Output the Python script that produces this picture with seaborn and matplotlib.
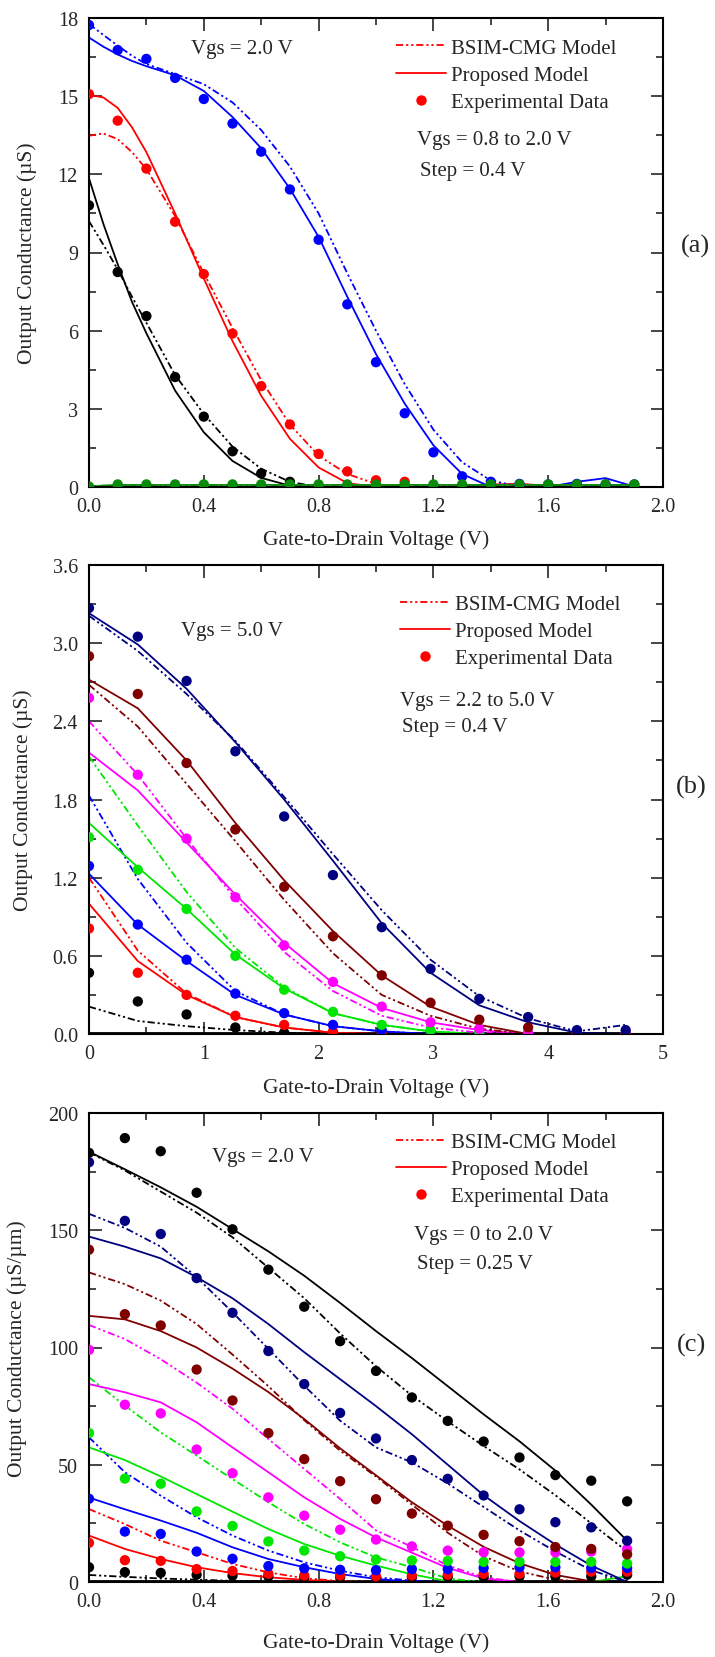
import matplotlib
matplotlib.use("Agg")
import matplotlib.pyplot as plt
from matplotlib.lines import Line2D
from matplotlib.ticker import MultipleLocator, FormatStrFormatter
import numpy as np
import pandas as pd
import seaborn as sns

# ---------------- panel (a) ----------------
a_v_exp = [0.0, 0.1, 0.2, 0.3, 0.4, 0.5, 0.6, 0.7, 0.8, 0.9,
           1.0, 1.1, 1.2, 1.3, 1.4, 1.5, 1.6, 1.7, 1.8, 1.9]
a_exp_black = [10.81, 8.25, 6.56, 4.22, 2.70, 1.37, 0.52, 0.20]
a_exp_red = [15.08, 14.06, 12.22, 10.18, 8.17, 5.89, 3.87, 2.40, 1.27, 0.60, 0.26, 0.20]
a_exp_blue = [17.73, 16.77, 16.43, 15.70, 14.89, 13.95, 12.87, 11.42, 9.49, 7.01,
              4.79, 2.83, 1.33, 0.41, 0.20, 0.12, 0.10, 0.12, 0.10, 0.10]
a_exp_green = [0.02, 0.10, 0.10, 0.10, 0.10, 0.10, 0.10, 0.10, 0.10, 0.10,
               0.10, 0.10, 0.10, 0.10, 0.10, 0.10, 0.10, 0.10, 0.10, 0.10]

a_v_mod = [0.0, 0.05, 0.1, 0.15, 0.2, 0.3, 0.4, 0.5, 0.6, 0.7, 0.8, 0.9,
           1.0, 1.1, 1.2, 1.3, 1.4, 1.5, 1.6, 1.7, 1.8, 1.9]
a_prop_black = [11.85, 10.1, 8.55, 7.1, 5.9, 3.7, 2.1, 1.0, 0.35, 0.05, 0.0, 0.0,
                0.0, 0.0, 0.0, 0.0, 0.0, 0.0, 0.0, 0.0, 0.0, 0.0]
a_bsim_black = [10.2, 9.3, 8.35, 7.3, 6.3, 4.3, 2.8, 1.55, 0.7, 0.2, 0.0, 0.0,
                0.0, 0.0, 0.0, 0.0, 0.0, 0.0, 0.0, 0.0, 0.0, 0.0]
a_prop_red = [15.05, 14.95, 14.55, 13.8, 12.85, 10.5, 8.0, 5.6, 3.5, 1.85, 0.75, 0.15,
              0.0, 0.0, 0.0, 0.03, 0.1, 0.12, 0.05, 0.0, 0.0, 0.0]
a_bsim_red = [13.48, 13.57, 13.35, 12.85, 12.2, 10.4, 8.2, 6.1, 4.1, 2.4, 1.2, 0.5,
              0.12, 0.0, 0.0, 0.0, 0.0, 0.0, 0.0, 0.0, 0.0, 0.0]
a_prop_blue = [17.25, 16.9, 16.6, 16.35, 16.15, 15.8, 15.2, 14.2, 13.0, 11.45, 9.6, 7.3,
               5.1, 3.2, 1.6, 0.5, 0.0, 0.0, 0.0, 0.2, 0.34, 0.02]
a_bsim_blue = [17.77, 17.35, 16.94, 16.55, 16.23, 15.85, 15.46, 14.76, 13.7, 12.3, 10.5, 8.2,
               6.0, 3.95, 2.2, 0.95, 0.25, 0.02, 0.0, 0.0, 0.05, 0.05]
a_prop_green = [0.0, 0.06, 0.08, 0.08, 0.08, 0.08, 0.08, 0.08, 0.08, 0.08, 0.08, 0.08,
                0.08, 0.08, 0.08, 0.08, 0.08, 0.08, 0.08, 0.08, 0.08, 0.08]
a_bsim_green = [0.03, 0.03, 0.03, 0.03, 0.03, 0.03, 0.03, 0.03, 0.03, 0.03, 0.03, 0.03,
                0.03, 0.03, 0.03, 0.03, 0.03, 0.03, 0.03, 0.03, 0.03, 0.03]

# ---------------- panel (b) ----------------
b_v = [0.0, 0.425, 0.85, 1.275, 1.7, 2.125, 2.55, 2.975, 3.4, 3.825, 4.25, 4.675]
b_exp_black = [0.47, 0.25, 0.15, 0.05, 0.01, 0.0, 0.0, 0.0, 0.0, 0.0, 0.0, 0.0]
b_exp_red = [0.81, 0.47, 0.30, 0.14, 0.07, 0.02, 0.0, 0.0, 0.0, 0.0, 0.0, 0.0]
b_exp_blue = [1.29, 0.84, 0.57, 0.31, 0.16, 0.07, 0.03, 0.01, 0.0, 0.0, 0.0, 0.0]
b_exp_green = [1.51, 1.26, 0.96, 0.60, 0.34, 0.17, 0.07, 0.03, 0.01, 0.0, 0.0, 0.0]
b_exp_magenta = [2.58, 1.99, 1.50, 1.05, 0.68, 0.40, 0.21, 0.09, 0.04, 0.01, 0.0, 0.0]
b_exp_maroon = [2.90, 2.61, 2.08, 1.57, 1.13, 0.75, 0.45, 0.24, 0.11, 0.05, 0.01, 0.0]
b_exp_navy = [3.27, 3.05, 2.71, 2.17, 1.67, 1.22, 0.82, 0.50, 0.27, 0.13, 0.03, 0.03]

b_prop_black = [0.01, 0.01, 0.01, 0.01, 0.01, 0.01, 0.01, 0.01, 0.01, 0.01, 0.01, 0.01]
b_prop_red = [1.00, 0.56, 0.30, 0.13, 0.05, 0.01, 0.0, 0.0, 0.0, 0.0, 0.0, 0.0]
b_prop_blue = [1.23, 0.84, 0.56, 0.30, 0.15, 0.06, 0.02, 0.0, 0.0, 0.0, 0.0, 0.0]
b_prop_green = [1.62, 1.28, 0.96, 0.61, 0.35, 0.16, 0.07, 0.02, 0.0, 0.0, 0.0, 0.0]
b_prop_magenta = [2.16, 1.87, 1.47, 1.07, 0.70, 0.39, 0.20, 0.09, 0.03, 0.0, 0.0, 0.0]
b_prop_maroon = [2.72, 2.50, 2.10, 1.62, 1.18, 0.79, 0.45, 0.21, 0.07, 0.0, 0.0, 0.0]
b_prop_navy = [3.23, 2.99, 2.65, 2.24, 1.80, 1.33, 0.85, 0.47, 0.22, 0.09, 0.01, 0.0]

b_bsim_black = [0.21, 0.10, 0.06, 0.03, 0.01, 0.0, 0.0, 0.0, 0.0, 0.0, 0.0, 0.0]
b_bsim_red = [1.20, 0.64, 0.31, 0.13, 0.05, 0.01, 0.0, 0.0, 0.0, 0.0, 0.0, 0.0]
b_bsim_blue = [1.83, 1.19, 0.70, 0.33, 0.15, 0.06, 0.02, 0.0, 0.0, 0.0, 0.0, 0.0]
b_bsim_green = [2.13, 1.60, 1.09, 0.66, 0.36, 0.16, 0.07, 0.02, 0.0, 0.0, 0.0, 0.0]
b_bsim_magenta = [2.40, 1.99, 1.50, 1.04, 0.63, 0.33, 0.14, 0.05, 0.01, 0.0, 0.0, 0.0]
b_bsim_maroon = [2.68, 2.36, 1.92, 1.48, 1.03, 0.62, 0.30, 0.14, 0.04, 0.0, 0.0, 0.0]
b_bsim_navy = [3.21, 2.94, 2.61, 2.25, 1.82, 1.38, 0.95, 0.57, 0.29, 0.12, 0.02, 0.07]

# ---------------- panel (c) ----------------
c_v = [0.0, 0.125, 0.25, 0.375, 0.5, 0.625, 0.75, 0.875,
       1.0, 1.125, 1.25, 1.375, 1.5, 1.625, 1.75, 1.875]
c_exp_black0 = [6.3, 4.2, 3.9, 3.1, 2.7, 2.4, 2.0, 2.0, 2.0, 2.0, 2.2, 2.2, 2.4, 2.4, 2.4, 3.1]
c_exp_red = [16.7, 9.3, 9.0, 5.5, 4.7, 3.5, 2.8, 2.8, 2.4, 2.8, 3.1, 3.5, 3.5, 4.0, 4.4, 4.4]
c_exp_blue = [35.5, 21.5, 20.5, 13.0, 9.9, 6.8, 5.8, 5.2, 5.0, 5.5, 5.5, 6.0, 6.3, 6.3, 6.0, 6.0]
c_exp_green = [63.5, 44.1, 41.9, 30.1, 23.9, 17.3, 13.4, 11.0, 9.6, 9.2, 9.0, 8.6, 8.6, 8.6, 8.6, 7.9]
c_exp_magenta = [99.0, 75.6, 71.9, 56.5, 46.4, 36.1, 28.3, 22.3, 18.1, 15.2, 13.4, 12.7, 12.6, 12.6, 13.0, 14.0]
c_exp_maroon = [141.7, 114.2, 109.4, 90.6, 77.4, 63.5, 52.4, 43.0, 35.3, 29.2, 24.0, 20.1, 17.4, 14.9, 14.1, 11.8]
c_exp_navy = [179.0, 154.0, 148.4, 129.6, 114.8, 98.5, 84.4, 72.1, 61.2, 52.0, 44.0, 36.9, 31.0, 25.5, 23.3, 17.6]
c_exp_black = [183.0, 189.3, 183.7, 166.0, 150.4, 133.2, 117.4, 102.7, 90.0, 78.7, 68.7, 59.9, 53.1, 45.6, 43.2, 34.4]

c_prop_black0 = [0.3, 0.3, 0.3, 0.3, 0.3, 0.3, 0.3, 0.3, 0.3, 0.3, 0.3, 0.3, 0.3, 0.3, 0.3, 0.3]
c_prop_red = [19.8, 14.1, 9.8, 6.3, 3.8, 2.0, 0.9, 0.1, 0.0, 0.0, 0.0, 0.0, 0.0, 0.0, 0.0, 0.0]
c_prop_blue = [36.0, 31.0, 26.2, 21.0, 14.8, 9.8, 6.3, 3.4, 1.3, 0.1, 0.0, 0.0, 0.0, 0.0, 0.0, 0.0]
c_prop_green = [57.4, 52.0, 45.0, 37.5, 30.0, 22.6, 16.2, 11.2, 7.0, 3.3, 0.3, 0.0, 0.0, 0.0, 0.0, 2.5]
c_prop_magenta = [84.4, 80.9, 76.6, 68.1, 57.4, 46.8, 36.1, 26.9, 19.0, 12.5, 6.0, 1.5, 0.0, 0.0, 0.0, 0.0]
c_prop_maroon = [113.5, 112.0, 107.0, 100.0, 91.0, 81.0, 69.5, 57.0, 45.5, 34.0, 24.0, 15.0, 8.0, 3.0, 0.3, 0.0]
c_prop_navy = [147.3, 143.0, 138.0, 130.0, 121.0, 110.0, 98.0, 86.5, 75.0, 63.0, 50.0, 37.0, 26.0, 16.0, 7.0, 0.0]
c_prop_black = [183.5, 176.0, 168.3, 160.0, 150.5, 141.0, 130.6, 119.0, 107.0, 95.5, 83.5, 71.5, 60.0, 47.5, 33.0, 17.6]

c_bsim_black0 = [3.0, 2.2, 1.5, 1.0, 0.5, 0.2, 0.0, 0.0, 0.0, 0.0, 0.0, 0.0, 0.0, 0.0, 0.0, 0.0]
c_bsim_red = [31.1, 24.7, 17.6, 12.7, 7.7, 4.1, 1.6, 0.4, 0.0, 0.0, 0.0, 0.0, 0.0, 0.0, 0.0, 0.0]
c_bsim_blue = [61.7, 46.8, 36.8, 27.6, 19.8, 13.4, 8.4, 4.8, 2.0, 0.6, 0.0, 0.0, 0.0, 0.0, 0.0, 0.0]
c_bsim_green = [87.3, 75.2, 63.8, 53.9, 43.9, 34.0, 24.7, 16.9, 10.5, 6.3, 1.5, 0.0, 0.0, 0.0, 0.0, 0.0]
c_bsim_magenta = [109.6, 103.6, 95.0, 85.0, 73.9, 61.0, 48.2, 35.4, 22.0, 15.0, 7.0, 2.0, 0.0, 0.0, 0.0, 0.0]
c_bsim_maroon = [132.0, 127.0, 120.0, 110.0, 97.0, 83.5, 69.0, 56.0, 45.0, 33.0, 21.0, 11.0, 4.5, 1.0, 0.0, 0.0]
c_bsim_navy = [157.0, 151.0, 143.0, 130.0, 115.0, 99.4, 83.7, 68.8, 57.4, 51.0, 42.0, 32.0, 22.0, 13.0, 5.0, 0.0]
c_bsim_black = [183.2, 175.5, 166.5, 157.5, 147.0, 134.0, 121.0, 106.0, 92.0, 79.5, 68.5, 58.0, 48.0, 37.0, 25.0, 13.0]

colors = {
    "black": "#000000", "black0": "#000000", "red": "#ff0000", "blue": "#0000ff",
    "green": "#00e600", "dkgreen": "#0a8a0a", "magenta": "#ff00ff",
    "maroon": "#800000", "navy": "#000080",
}
bsim_dash = (4, 1.6, 1.2, 1.6, 1.2, 1.6)

FS_TICK = 14.5
FS_TEXT = 15
FS_LABEL = 15.5


def long_frame(v, series):
    rows = []
    for name, vals in series:
        for x, y in zip(v, vals):
            rows.append({"V": x, "G": y, "series": name})
    return pd.DataFrame(rows)


def draw_panel(ax, v_mod, prop, bsim, v_exp, exp, pal):
    df_p = long_frame(v_mod, prop)
    df_p["model"] = "Proposed"
    df_b = long_frame(v_mod, bsim)
    df_b["model"] = "BSIM"
    df_l = pd.concat([df_b, df_p], ignore_index=True)
    sns.lineplot(data=df_l, x="V", y="G", hue="series", style="model",
                 palette={k: pal[k] for k in df_l["series"].unique()},
                 dashes={"BSIM": bsim_dash, "Proposed": ""},
                 estimator=None, sort=False, legend=False, lw=1.3, ax=ax)
    df_e = long_frame(v_exp, exp)
    sns.scatterplot(data=df_e, x="V", y="G", hue="series",
                    palette={k: pal[k] for k in df_e["series"].unique()},
                    s=55, linewidth=0, legend=False, ax=ax, zorder=3)


def style_axes(ax, xlim, ylim, xmaj, xmin, ymaj, ymin, xfmt, yfmt):
    ax.set_xlim(*xlim)
    ax.set_ylim(*ylim)
    ax.xaxis.set_major_locator(MultipleLocator(xmaj))
    ax.xaxis.set_minor_locator(MultipleLocator(xmin))
    ax.yaxis.set_major_locator(MultipleLocator(ymaj))
    ax.yaxis.set_minor_locator(MultipleLocator(ymin))
    ax.xaxis.set_major_formatter(FormatStrFormatter(xfmt))
    ax.yaxis.set_major_formatter(FormatStrFormatter(yfmt))
    ax.tick_params(which="both", direction="in", top=True, right=True,
                   width=1.2, labelsize=FS_TICK)
    ax.tick_params(which="major", length=9)
    ax.tick_params(which="minor", length=5)
    ax.tick_params(axis="x", pad=7)
    ax.tick_params(axis="y", pad=8)
    for sp in ax.spines.values():
        sp.set_linewidth(1.5)
        sp.set_color("black")


def add_legend(ax, x, y):
    handles = [
        Line2D([], [], color="red", lw=1.3, dashes=bsim_dash),
        Line2D([], [], color="red", lw=1.3),
        Line2D([], [], color="red", lw=0, marker="o", markersize=7.5, markeredgewidth=0),
    ]
    labels = ["BSIM-CMG Model", "Proposed Model", "Experimental Data"]
    ax.legend(handles, labels, loc="upper left", bbox_to_anchor=(x, y),
              frameon=False, fontsize=FS_TEXT, handlelength=2.4, handletextpad=0.25,
              labelspacing=0.36, borderpad=0, borderaxespad=0)


sns.set_style("ticks")
plt.rcParams["font.family"] = ["Liberation Serif", "DejaVu Serif"]

fig = plt.figure(figsize=(7.15, 16.58), dpi=100)
left, width, height = 89 / 715, 574 / 715, 469 / 1658
ax_a = fig.add_axes([left, 1 - 488 / 1658, width, height])
ax_b = fig.add_axes([left, 1 - 1035 / 1658, width, height])
ax_c = fig.add_axes([left, 1 - 1583 / 1658, width, height])

pal_a = dict(colors)
pal_a["green"] = colors["dkgreen"]

draw_panel(ax_a, a_v_mod,
           [("black", a_prop_black), ("red", a_prop_red), ("blue", a_prop_blue), ("green", a_prop_green)],
           [("black", a_bsim_black), ("red", a_bsim_red), ("blue", a_bsim_blue), ("green", a_bsim_green)],
           a_v_exp,
           [("black", a_exp_black), ("red", a_exp_red), ("blue", a_exp_blue), ("green", a_exp_green)],
           pal_a)
style_axes(ax_a, (0, 2.0), (0, 18), 0.4, 0.2, 3, 1.5, "%.1f", "%d")

order_b = ["black", "red", "blue", "green", "magenta", "maroon", "navy"]
draw_panel(ax_b, b_v,
           [(k, globals()["b_prop_" + k]) for k in order_b],
           [(k, globals()["b_bsim_" + k]) for k in order_b],
           b_v,
           [(k, globals()["b_exp_" + k]) for k in order_b],
           colors)
style_axes(ax_b, (0, 5), (0, 3.6), 1, 0.5, 0.6, 0.3, "%d", "%.1f")

order_c = ["black0", "red", "blue", "green", "magenta", "maroon", "navy", "black"]
draw_panel(ax_c, c_v,
           [(k, globals()["c_prop_" + k]) for k in order_c],
           [(k, globals()["c_bsim_" + k]) for k in order_c],
           c_v,
           [(k, globals()["c_exp_" + k]) for k in order_c],
           colors)
style_axes(ax_c, (0, 2.0), (0, 200), 0.4, 0.2, 50, 25, "%.1f", "%d")

xlab = "Gate-to-Drain Voltage (V)"
for ax, ylab, ylx, xly in [(ax_a, "Output Conductance (\u00b5S)", -0.09, -0.09),
                           (ax_b, "Output Conductance (\u00b5S)", -0.098, -0.092),
                           (ax_c, "Output Conductance (\u00b5S/\u00b5m)", -0.108, -0.107)]:
    ax.set_xlabel(xlab, fontsize=FS_LABEL)
    ax.set_ylabel(ylab, fontsize=FS_LABEL)
    ax.yaxis.set_label_coords(ylx, 0.5)
    ax.xaxis.set_label_coords(0.5, xly)

ax_a.text(0.178, 0.934, "Vgs = 2.0 V", transform=ax_a.transAxes, fontsize=FS_TEXT, va="center")
ax_a.text(0.571, 0.740, "Vgs = 0.8 to 2.0 V", transform=ax_a.transAxes, fontsize=FS_TEXT, va="center")
ax_a.text(0.577, 0.674, "Step = 0.4 V", transform=ax_a.transAxes, fontsize=FS_TEXT, va="center")
ax_a.text(1.056, 0.516, "(a)", transform=ax_a.transAxes, fontsize=19, va="center", ha="center")
add_legend(ax_a, 0.535, 0.957)

ax_b.text(0.161, 0.861, "Vgs = 5.0 V", transform=ax_b.transAxes, fontsize=FS_TEXT, va="center")
ax_b.text(0.542, 0.712, "Vgs = 2.2 to 5.0 V", transform=ax_b.transAxes, fontsize=FS_TEXT, va="center")
ax_b.text(0.545, 0.655, "Step = 0.4 V", transform=ax_b.transAxes, fontsize=FS_TEXT, va="center")
ax_b.text(1.049, 0.527, "(b)", transform=ax_b.transAxes, fontsize=19, va="center", ha="center")
add_legend(ax_b, 0.541, 0.937)

ax_c.text(0.214, 0.908, "Vgs = 2.0 V", transform=ax_c.transAxes, fontsize=FS_TEXT, va="center")
ax_c.text(0.566, 0.742, "Vgs = 0 to 2.0 V", transform=ax_c.transAxes, fontsize=FS_TEXT, va="center")
ax_c.text(0.572, 0.680, "Step = 0.25 V", transform=ax_c.transAxes, fontsize=FS_TEXT, va="center")
ax_c.text(1.049, 0.507, "(c)", transform=ax_c.transAxes, fontsize=19, va="center", ha="center")
add_legend(ax_c, 0.535, 0.959)

fig.savefig("out.png", dpi=100)
